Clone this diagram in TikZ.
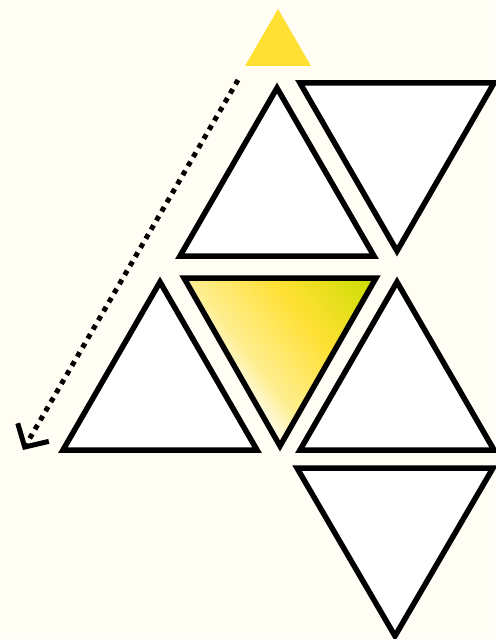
\documentclass[tikz,border=0pt]{standalone}
\usepackage{xcolor}
\definecolor{cream}{HTML}{FFFDF4}
\definecolor{sunyellow}{HTML}{FFE033}
\definecolor{paleyellow}{HTML}{FFEE90}
\definecolor{limegreen}{HTML}{C8DE00}
\usetikzlibrary{arrows.meta}
\pgfdeclarehorizontalshading{hotshade}{100bp}{%
  color(0bp)=(cream); color(40bp)=(cream); color(46bp)=(paleyellow);
  color(59bp)=(sunyellow); color(75bp)=(limegreen); color(100bp)=(limegreen)}

\begin{document}
\begin{tikzpicture}[
  x=1pt,y=-1pt,
  tri/.style   ={draw=black,line width=5.5pt,line join=miter,fill=white},
  rim/.style   ={draw=black,line width=5.5pt,line join=miter},
  marker/.style={fill=sunyellow,draw=none},
  arr/.style   ={-{Straight Barb[length=17pt,width=36pt,line width=5pt]},
                 line width=5pt,dash pattern=on 5pt off 5.5pt}
]

% page and margins
\fill[cream] (0,0) rectangle (495,639);
\useasboundingbox (0,0) rectangle (495,639);

% small yellow marker
\path[marker] (245,66) -- (278,9) -- (311,66) -- cycle;

% row 1
\draw[tri] (180,256) -- (277,88) -- (374,256) -- cycle;
\draw[tri] (300,83) -- (494,83) -- (397,251) -- cycle;

% row 2
\draw[tri] (63,450) -- (160,282) -- (257,450) -- cycle;
\begin{scope}
  \clip (184,278) -- (376,278) -- (280,446) -- cycle;
  \begin{scope}[transform canvas={rotate around={38:(280,362)}}]
    \shade[shading=hotshade] (150,232) rectangle (410,492);
  \end{scope}
\end{scope}
\draw[rim] (184,278) -- (376,278) -- (280,446) -- cycle;
\draw[tri] (300,450) -- (397,282) -- (494,450) -- cycle;

% row 3
\draw[tri] (297,468) -- (493,468) -- (395,636) -- cycle;

% dotted arrow
\coordinate (arrtail) at (238,80);
\coordinate (arrtip)  at (23,450);
\draw[arr] (arrtail) -- (arrtip);

\end{tikzpicture}
\end{document}
